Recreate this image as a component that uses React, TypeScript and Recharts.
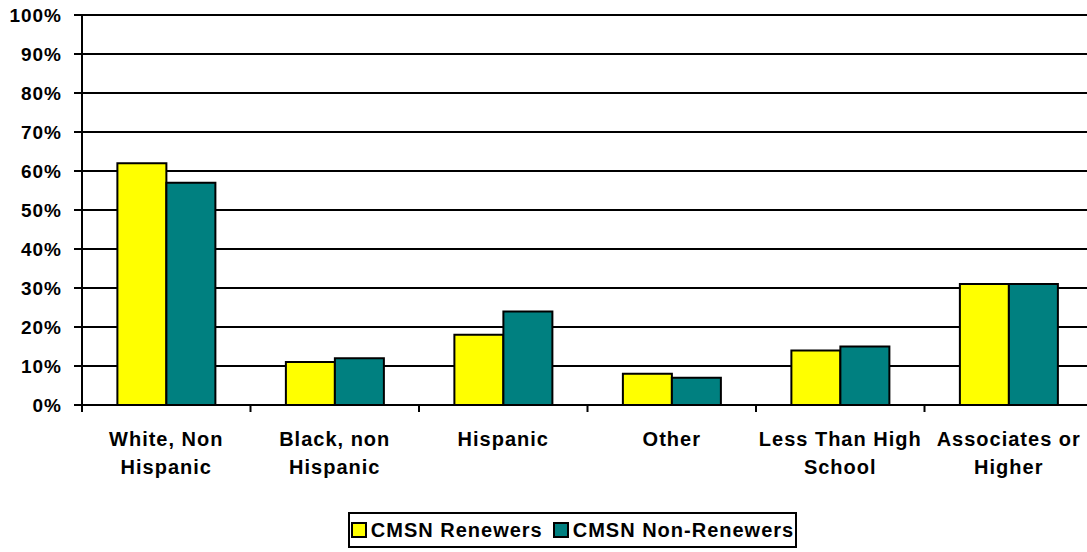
import { BarChart, Bar, XAxis, YAxis, CartesianGrid, Legend } from "recharts";

const categories = [
  "White, Non\nHispanic",
  "Black, non\nHispanic",
  "Hispanic",
  "Other",
  "Less Than High\nSchool",
  "Associates or\nHigher",
];
const renewers = [62, 11, 18, 8, 14, 31];
const nonRenewers = [57, 12, 24, 7, 15, 31];
const yTicks = [0, 10, 20, 30, 40, 50, 60, 70, 80, 90, 100];

const seriesNames = ["CMSN Renewers", "CMSN Non-Renewers"];
const seriesColors = ["#FFFF00", "#008080"];

const data = categories.map((name, i) => ({
  name,
  renewers: renewers[i],
  nonRenewers: nonRenewers[i],
}));

const FONT = "'Liberation Sans', Arial, sans-serif";

const CategoryTick = (props: any) => {
  const { x, y, payload } = props;
  const half = payload?.offset ?? 84;
  const lines = String(payload.value).split("\n");
  return (
    <g>
      <line x1={x - half} y1={y} x2={x - half} y2={y + 7} stroke="#000" strokeWidth={2} />
      {lines.map((line, i) => (
        <text
          key={i}
          x={x}
          y={y + 41 + i * 28}
          textAnchor="middle"
          fontSize={20}
          fontWeight="bold"
          letterSpacing={1}
          fontFamily={FONT}
          fill="#000"
        >
          {line}
        </text>
      ))}
    </g>
  );
};

const LegendBox = () => (
  <div
    style={{
      border: "2px solid #000",
      height: 32,
      display: "flex",
      alignItems: "center",
      justifyContent: "center",
      gap: 10,
      fontFamily: FONT,
      fontWeight: "bold",
      fontSize: 20,
      letterSpacing: 1,
      background: "#fff",
    }}
  >
    {seriesNames.map((n, i) => (
      <span key={n} style={{ display: "flex", alignItems: "center" }}>
        <span
          style={{
            display: "inline-block",
            width: 12,
            height: 12,
            border: "2px solid #000",
            background: seriesColors[i],
            marginRight: 4,
          }}
        />
        {n}
      </span>
    ))}
  </div>
);

export default function App() {
  return (
    <div
      style={{
        position: "absolute",
        left: 0,
        top: 0,
        width: 1087,
        height: 552,
        overflow: "hidden",
        background: "#fff",
      }}
    >
      <BarChart
        width={1100}
        height={552}
        data={data}
        margin={{ top: 15, right: 7, left: 0, bottom: 0 }}
        barCategoryGap="21%"
        barGap={0}
      >
        <CartesianGrid vertical={false} stroke="#000" strokeWidth={2} />
        <XAxis
          dataKey="name"
          height={147}
          interval={0}
          tickLine={false}
          tickSize={0}
          tickMargin={0}
          axisLine={{ stroke: "#000", strokeWidth: 2 }}
          tick={<CategoryTick />}
        />
        <YAxis
          width={82}
          domain={[0, 100]}
          ticks={yTicks}
          interval={0}
          tickFormatter={(v) => `${v}%`}
          tickSize={8}
          tickMargin={12}
          tickLine={{ stroke: "#000", strokeWidth: 2 }}
          axisLine={{ stroke: "#000", strokeWidth: 2 }}
          tick={{ fill: "#000", fontSize: 19, fontWeight: "bold", fontFamily: FONT, letterSpacing: 1 }}
        />
        <Legend
          layout="horizontal"
          verticalAlign="middle"
          align="center"
          wrapperStyle={{ top: 512, left: 348, width: 449 }}
          content={<LegendBox />}
        />
        <Bar
          dataKey="renewers"
          name={seriesNames[0]}
          fill={seriesColors[0]}
          stroke="#000"
          strokeWidth={2}
          isAnimationActive={false}
        />
        <Bar
          dataKey="nonRenewers"
          name={seriesNames[1]}
          fill={seriesColors[1]}
          stroke="#000"
          strokeWidth={2}
          isAnimationActive={false}
        />
      </BarChart>
    </div>
  );
}
